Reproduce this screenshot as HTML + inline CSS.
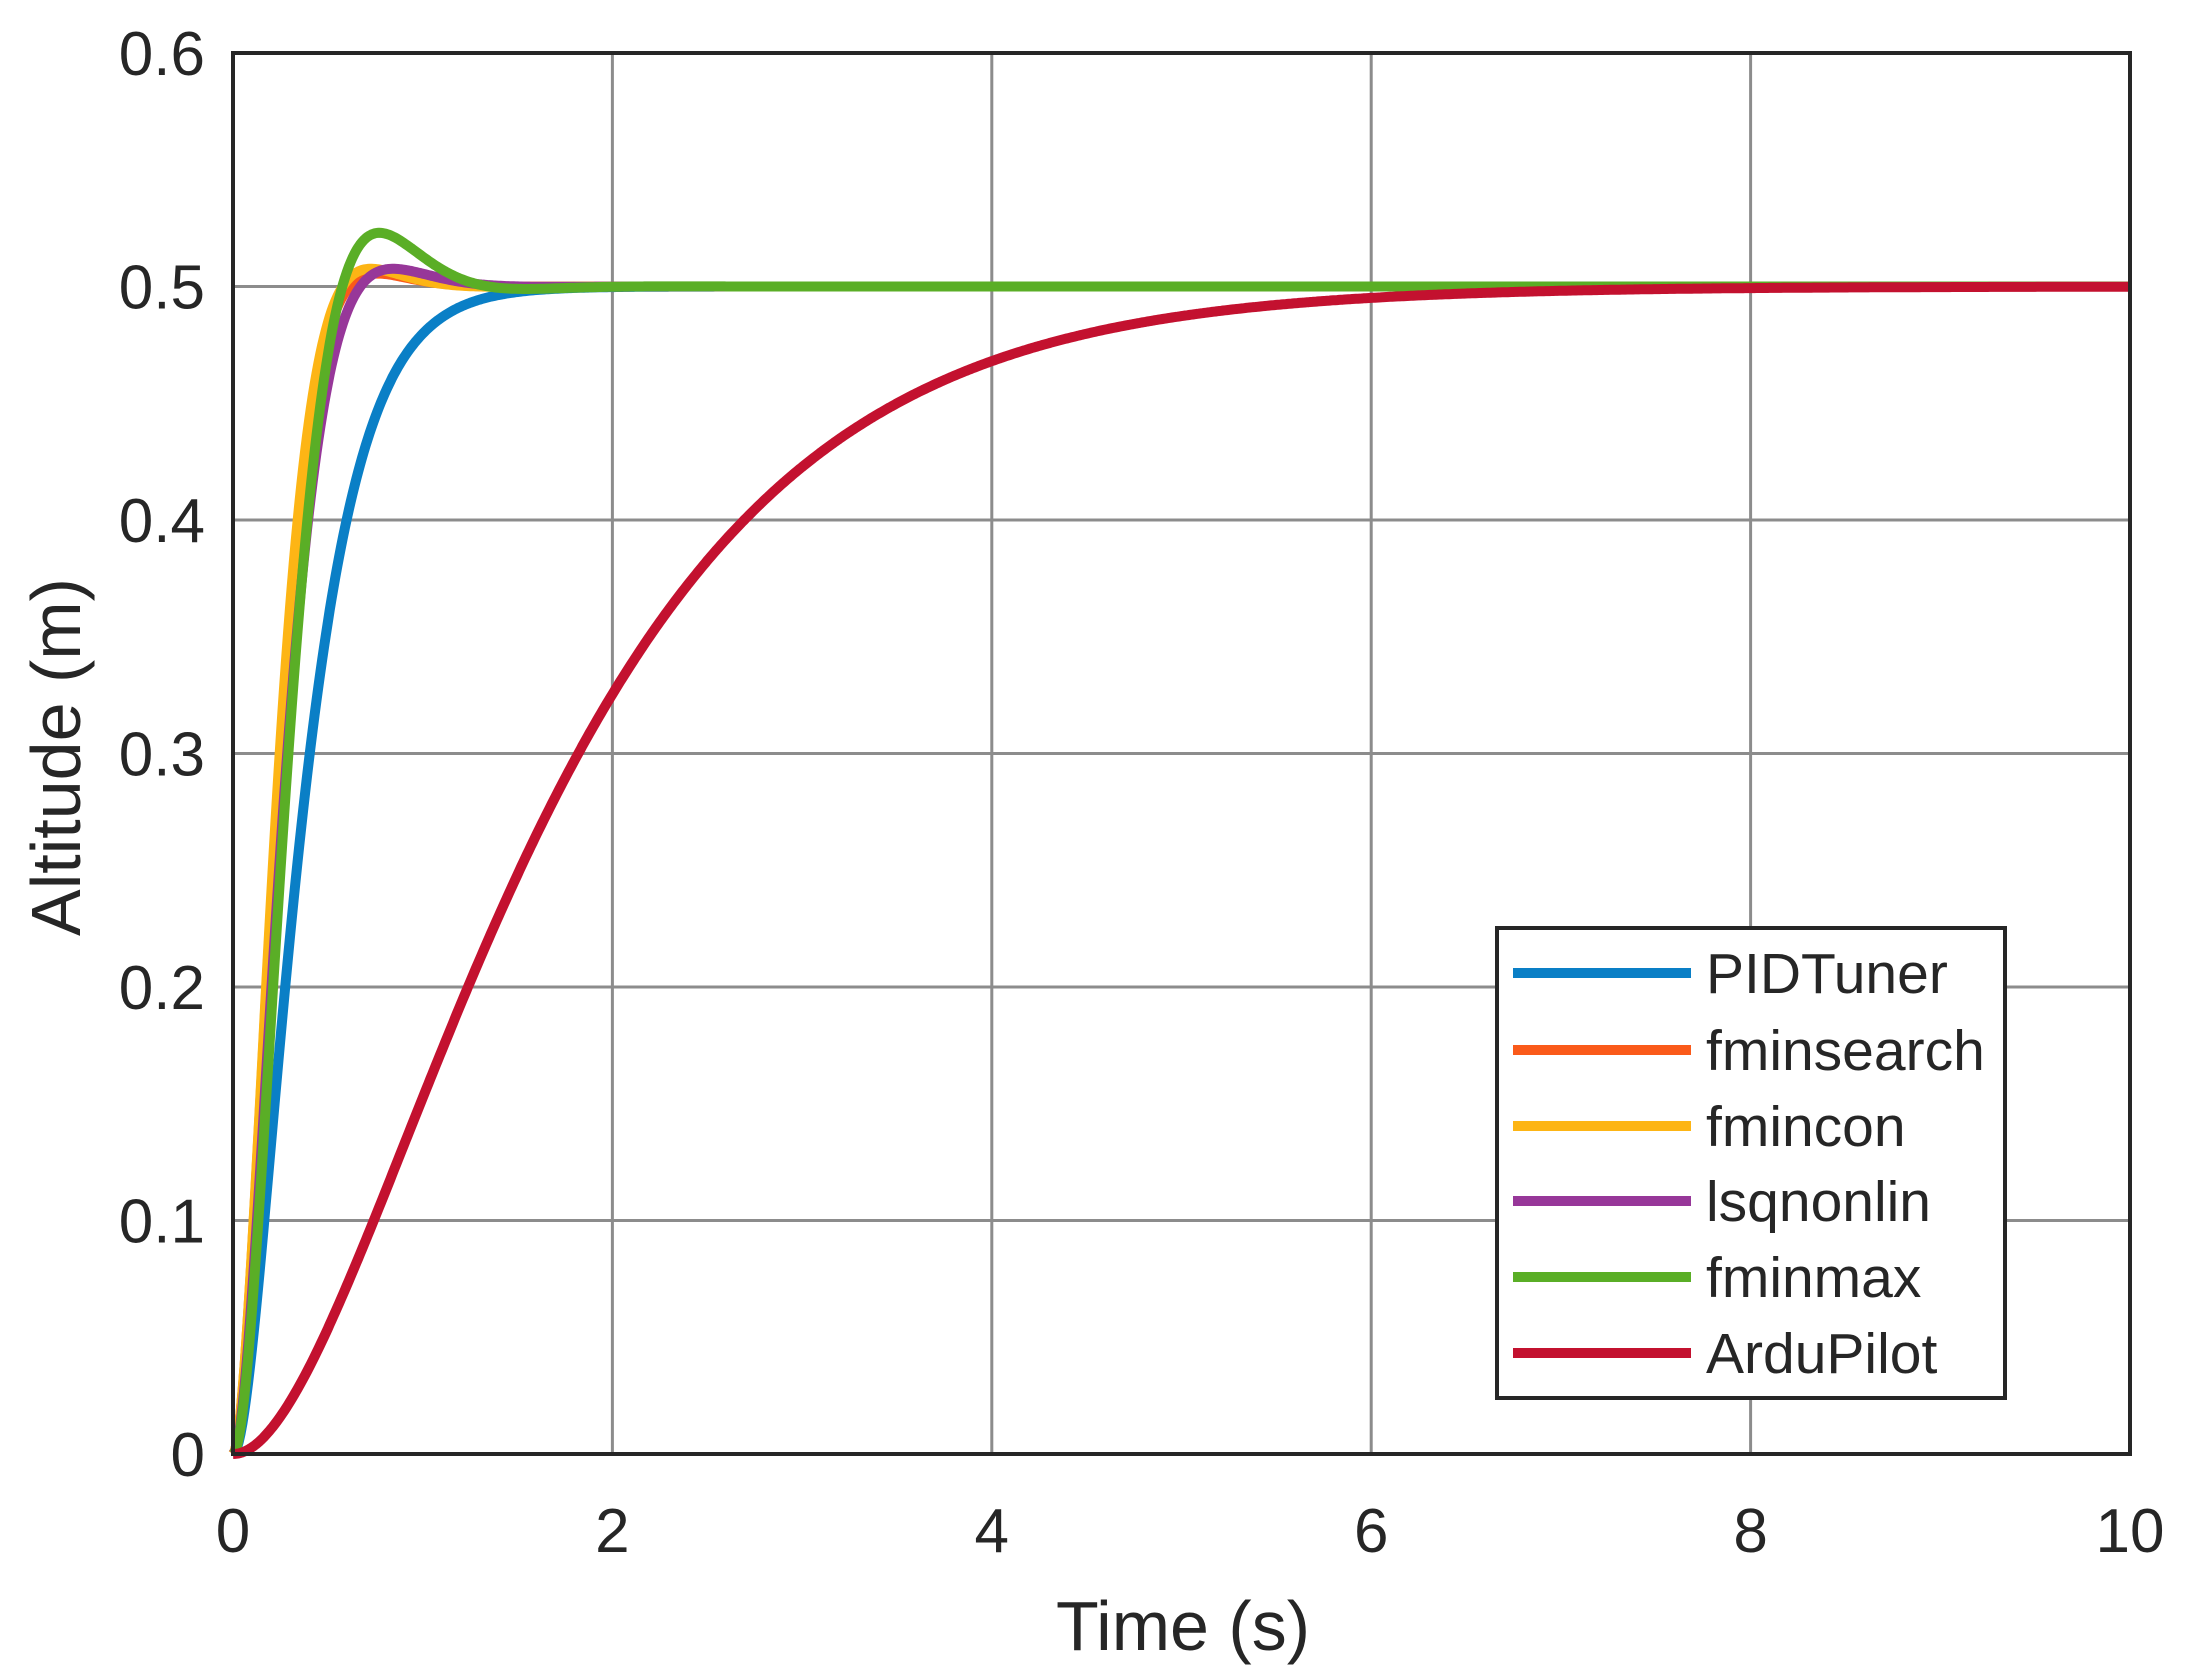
<!DOCTYPE html>
<html><head><meta charset="utf-8"><style>
html,body{margin:0;padding:0;background:#fff;}
svg{display:block;}
text{font-family:"Liberation Sans",Arial,sans-serif;fill:#262626;}
</style></head><body>
<svg id="s" width="2190" height="1679" viewBox="0 0 2190 1679" xmlns="http://www.w3.org/2000/svg">
<rect width="2190" height="1679" fill="#fff"/>
<g id="grid" stroke="#8c8c8c" stroke-width="3"></g>
<g id="curves" fill="none" stroke-width="10" stroke-linejoin="round"></g>
<rect x="233" y="53" width="1897" height="1401" fill="none" stroke="#262626" stroke-width="4"/>
<g id="labels" font-size="62"></g>
<text x="1183" y="1650" font-size="70" text-anchor="middle">Time (s)</text>
<text transform="translate(80,757) rotate(-90)" font-size="70" text-anchor="middle">Altitude (m)</text>
<g>
<rect x="1497" y="928" width="508" height="470" fill="#fff" stroke="#262626" stroke-width="4"/>
</g>
<g id="legend" font-size="57"></g>
</svg>
<script>
var L=233,R=2130,T=53,B=1454;
function X(t){return L+t*(R-L)/10;}
function Y(v){return B-v*(B-T)/0.6;}
var ns="http://www.w3.org/2000/svg",g=document.getElementById('grid'),lab=document.getElementById('labels');
function el(p,tag,a,txt){var e=document.createElementNS(ns,tag);for(var k in a)e.setAttribute(k,a[k]);if(txt!==undefined)e.textContent=txt;p.appendChild(e);return e;}
for(var i=0;i<=5;i++){var x=X(i*2);if(i>0&&i<5)el(g,'line',{x1:x,y1:T,x2:x,y2:B});
 el(lab,'text',{x:x,y:1552,'text-anchor':'middle'},String(i*2));}
for(var j=0;j<=6;j++){var y=Y(j*0.1);if(j>0&&j<6)el(g,'line',{x1:L,y1:y,x2:R,y2:y});
 el(lab,'text',{x:205,y:y+22,'text-anchor':'end'},j==0?'0':(j/10).toFixed(1));}
function over(tau){return function(t){var x=t/tau;return 0.5*(1-Math.exp(-x)*(1+x));};}
function under(wn,z){var wd=wn*Math.sqrt(1-z*z),ph=Math.acos(z);return function(t){return 0.5*(1-Math.exp(-z*wn*t)/Math.sqrt(1-z*z)*Math.sin(wd*t+ph));};}
var series=[
['PIDTuner','#0a7fc6',over(0.2)],
['fminsearch','#fa5a1a',under(7.2,0.82)],
['fmincon','#fdb515',under(7.2,0.8)],
['lsqnonlin','#973799',under(6.2,0.8)],
['fminmax','#5aae26',under(5.7,0.7)],
['ArduPilot','#c3112f',over(0.9)]];
var cg=document.getElementById('curves'),lg=document.getElementById('legend');
var ly=[973,1050,1126,1201,1277,1353];
series.forEach(function(s,k){var p=[];for(var t=0;t<=10.0001;t+=0.01)p.push(X(t).toFixed(1)+','+Y(s[2](t)).toFixed(1));
 el(cg,'polyline',{points:p.join(' '),stroke:s[1]});
 el(lg,'line',{x1:1513,y1:ly[k],x2:1691,y2:ly[k],stroke:s[1],'stroke-width':10});
 el(lg,'text',{x:1706,y:ly[k]+20},s[0]);});
</script>
</body></html>
